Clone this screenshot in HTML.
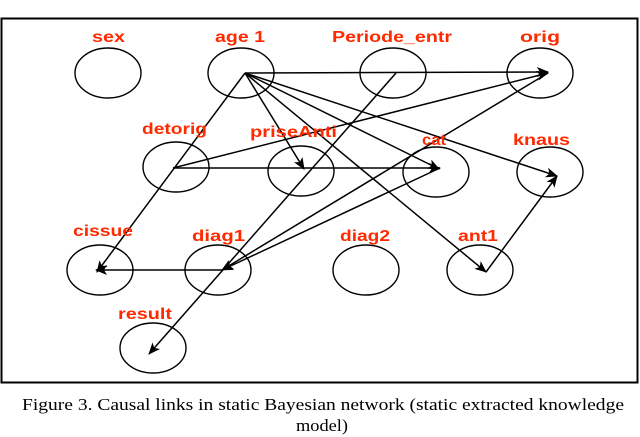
<!DOCTYPE html>
<html><head><meta charset="utf-8"><style>
html,body{margin:0;padding:0;background:#fff;}
svg{display:block}
</style></head><body>
<svg width="640" height="437" viewBox="0 0 640 437" xmlns="http://www.w3.org/2000/svg">
<defs>
<marker id="a" markerWidth="12" markerHeight="10" refX="11" refY="5" orient="auto" markerUnits="userSpaceOnUse">
<path d="M0,0 L12,5 L0,10 L3,5 Z" fill="#000"/>
</marker>
</defs>
<rect x="1.5" y="18.5" width="636" height="364" fill="none" stroke="#000" stroke-width="2"/>
<g fill="none" stroke="#000" stroke-width="1.4">
<ellipse cx="108" cy="73" rx="33" ry="25"/>
<ellipse cx="241" cy="73" rx="33" ry="25"/>
<ellipse cx="393" cy="73" rx="33" ry="25"/>
<ellipse cx="540" cy="73" rx="33" ry="25"/>
<ellipse cx="176" cy="167" rx="33" ry="25"/>
<ellipse cx="301" cy="171" rx="33" ry="25"/>
<ellipse cx="436" cy="172" rx="33" ry="25"/>
<ellipse cx="550" cy="172" rx="33" ry="25"/>
<ellipse cx="100" cy="270" rx="33" ry="25"/>
<ellipse cx="218" cy="270" rx="33" ry="25"/>
<ellipse cx="366" cy="270" rx="33" ry="25"/>
<ellipse cx="480" cy="270" rx="33" ry="25"/>
<ellipse cx="153" cy="348" rx="33" ry="25"/>
</g>
<g stroke="#000" stroke-width="1.5" fill="none">
<line x1="245" y1="73" x2="548" y2="72" marker-end="url(#a)"/>
<line x1="245" y1="73" x2="304" y2="169" marker-end="url(#a)"/>
<line x1="245" y1="73" x2="439" y2="169" marker-end="url(#a)"/>
<line x1="245" y1="73" x2="557" y2="176" marker-end="url(#a)"/>
<line x1="245" y1="73" x2="97" y2="272" marker-end="url(#a)"/>
<line x1="245" y1="73" x2="486" y2="272" marker-end="url(#a)"/>
<line x1="396" y1="73" x2="149" y2="354" marker-end="url(#a)"/>
<line x1="173" y1="168" x2="548" y2="73" marker-end="url(#a)"/>
<line x1="173" y1="168" x2="440" y2="168" marker-end="url(#a)"/>
<line x1="440" y1="168" x2="222" y2="270" marker-end="url(#a)"/>
<line x1="548" y1="73" x2="222" y2="270" marker-end="url(#a)"/>
<line x1="222" y1="270" x2="96" y2="270" marker-end="url(#a)"/>
<line x1="486" y1="272" x2="557" y2="176" marker-end="url(#a)"/>
</g>
<g fill="#ff2a00" font-family="Liberation Sans, sans-serif" font-weight="bold" font-size="16" lengthAdjust="spacingAndGlyphs">
<text x="92" y="42" textLength="33" lengthAdjust="spacingAndGlyphs">sex</text>
<text x="215" y="42" textLength="50" lengthAdjust="spacingAndGlyphs">age 1</text>
<text x="332" y="42" textLength="120" lengthAdjust="spacingAndGlyphs">Periode_entr</text>
<text x="520" y="42" textLength="40" lengthAdjust="spacingAndGlyphs">orig</text>
<text x="142" y="134" textLength="65" lengthAdjust="spacingAndGlyphs">detorig</text>
<text x="250" y="137" textLength="87" lengthAdjust="spacingAndGlyphs">priseAnti</text>
<text x="422" y="145" textLength="24" lengthAdjust="spacingAndGlyphs">cat</text>
<text x="513" y="145" textLength="57" lengthAdjust="spacingAndGlyphs">knaus</text>
<text x="73" y="236" textLength="60" lengthAdjust="spacingAndGlyphs">cissue</text>
<text x="192" y="241" textLength="53" lengthAdjust="spacingAndGlyphs">diag1</text>
<text x="340" y="241" textLength="50" lengthAdjust="spacingAndGlyphs">diag2</text>
<text x="458" y="241" textLength="40" lengthAdjust="spacingAndGlyphs">ant1</text>
<text x="118" y="319" textLength="54" lengthAdjust="spacingAndGlyphs">result</text>
</g>
<g fill="#000" font-family="Liberation Serif, serif" font-size="17">
<text x="22" y="410" textLength="602" lengthAdjust="spacingAndGlyphs">Figure 3.    Causal links in static Bayesian network (static extracted knowledge</text>
<text x="296" y="431" textLength="52" lengthAdjust="spacingAndGlyphs">model)</text>
</g>
</svg>
</body></html>
